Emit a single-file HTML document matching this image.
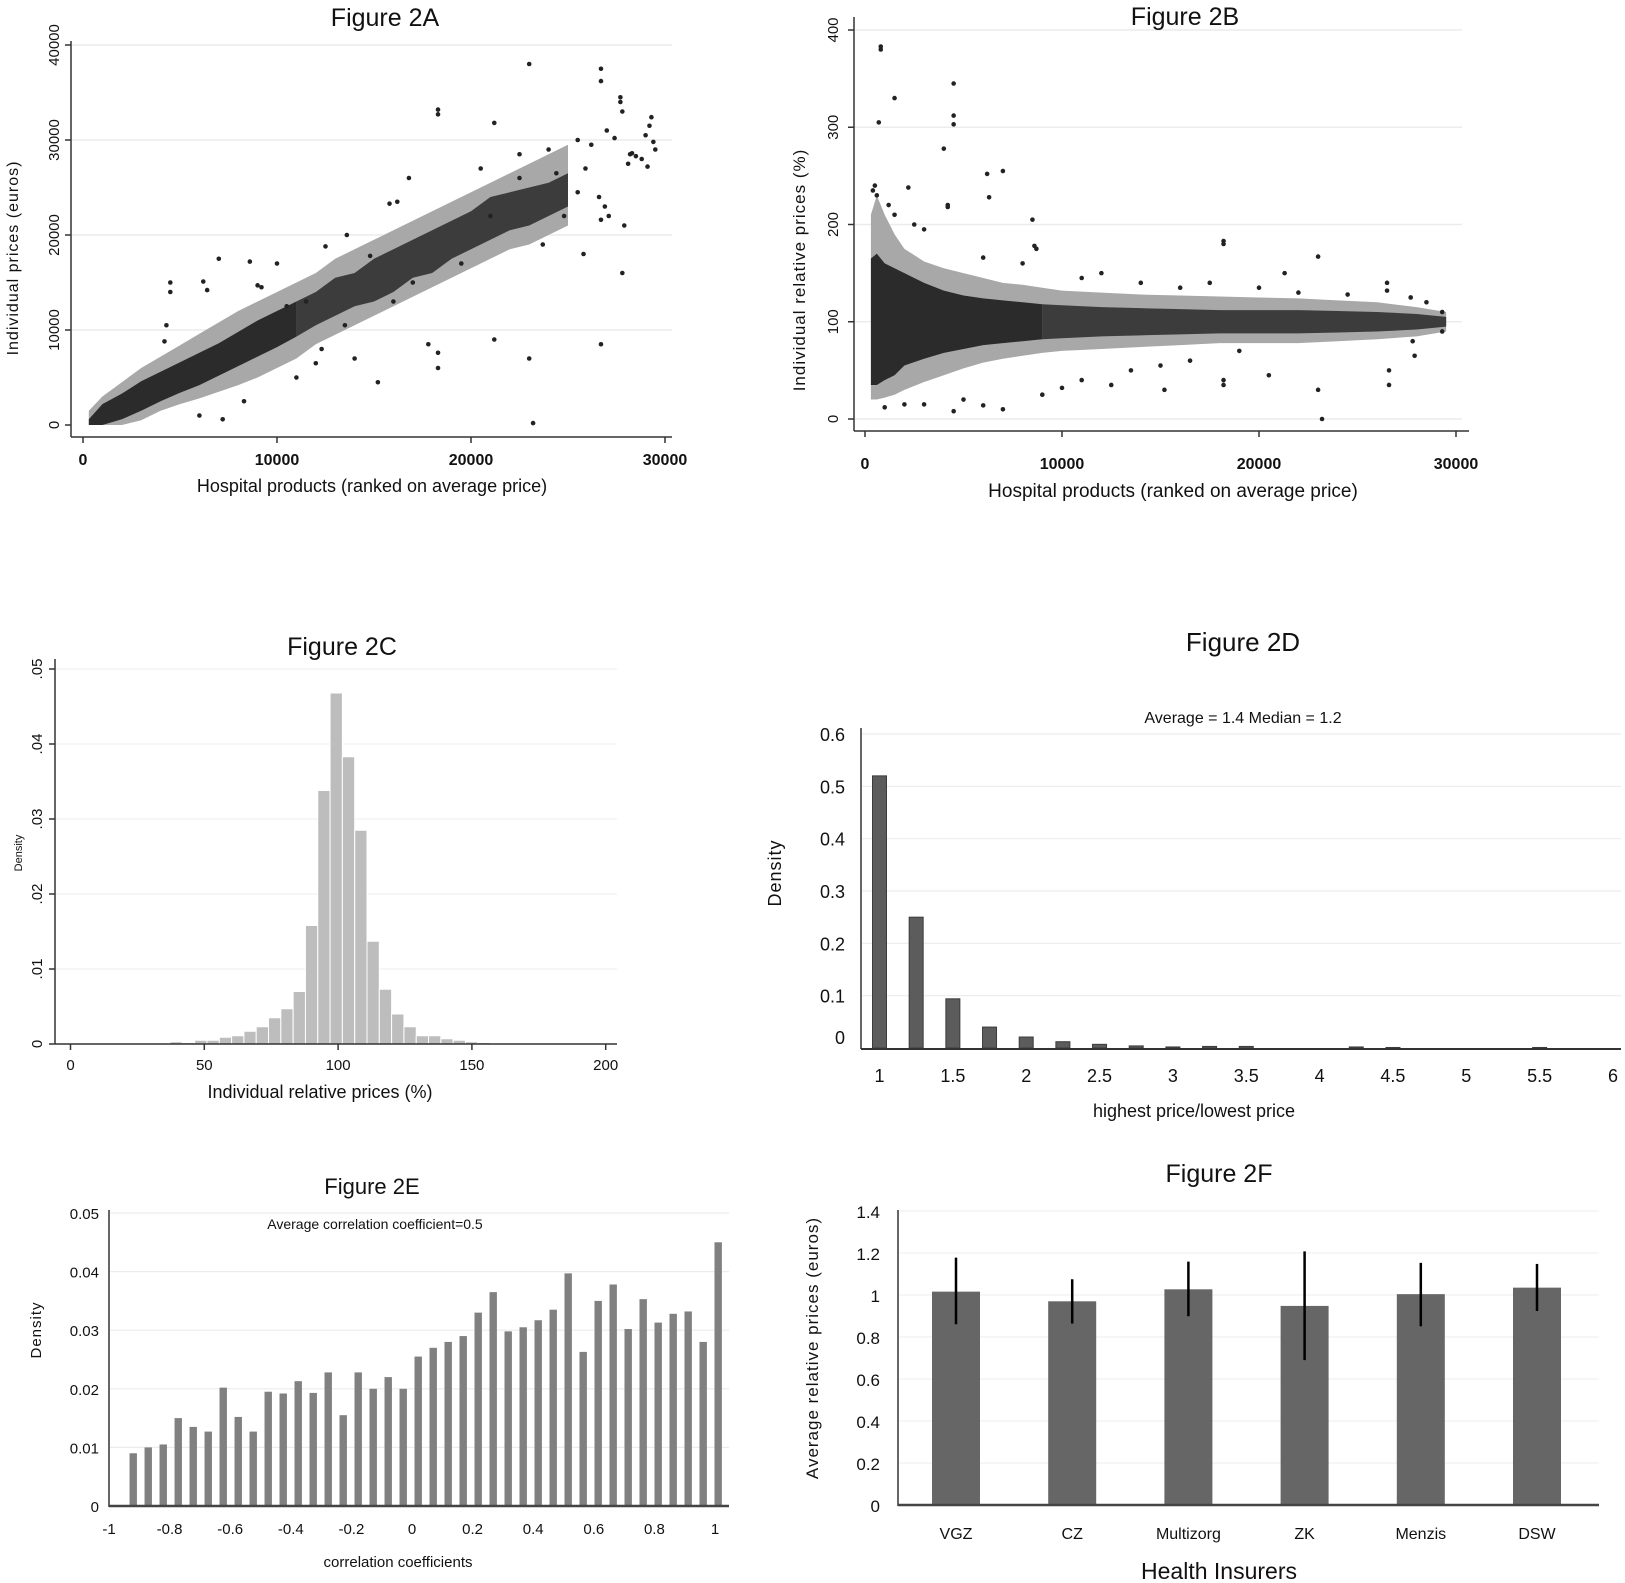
<!DOCTYPE html>
<html><head><meta charset="utf-8">
<style>
html,body{margin:0;padding:0;background:#fff;}
svg{display:block;font-family:"Liberation Sans",sans-serif;}
</style></head>
<body>
<svg id="fig" width="1625" height="1583" viewBox="0 0 1625 1583" xmlns="http://www.w3.org/2000/svg">
<g id="gA"></g>
<g id="gB"></g>
<g id="gC"></g>
<g id="gD"></g>
<g id="gE"></g>
<g id="gF"></g>
</svg>
<script>
// ---------- Figure 2A data (x, y in thousands) ----------
const aBandX  = [0.3,1,2,3,4,5,6,7,8,9,10,11,12,13,14,15,16,17,18,19,20,21,22,23,24,25];
const aBandLo = [0,0,0.6,1.5,2.5,3.4,4.2,5.2,6.2,7.2,8.2,9.3,10.5,11.5,12.5,13,14,15.5,16,17.5,18.5,19.5,20.5,21,22,23];
const aBandHi = [0.6,2.2,3.3,4.6,5.6,6.6,7.6,8.6,9.8,11,12,13,14,15.5,16,17.5,18.5,19.5,20.5,21.5,22.5,24,24.5,25,25.5,26.5];
const aHaloLo = [0,0,0,0.5,1.5,2.2,2.8,3.5,4.2,5,6,7,8.5,9.5,10.5,11.5,12.5,13.5,14.5,15.5,16.5,17.5,18.5,19,20,21];
const aHaloHi = [1.5,3,4.5,6,7.2,8.4,9.6,10.8,12,13,14,15,16,17.5,18.5,19.5,20.5,21.5,22.5,23.5,24.5,25.5,26.5,27.5,28.5,29.5];
const aPtsX = [23,26.7,26.7,27.7,27.7,27.8,18.3,18.3,21.2,29.3,29.2,29,26.6,26.7,27.8,26.7,23,21.2,23.2,18.3,18.3,15.2,17.8,16.8,20.5,22.5,24,25.5,28.2,27,28.8,29.5,7,8.6,6.2,6.4,4.5,4.5,4.3,4.2,9.2,9.0,12.5,13.6,15.8,16.2,14,13.5,12.3,11,7.2,8.3,6,10,25.5,24.8,24.4,23.7,22.5,21,19.5,17,16,14.8,12,11.5,10.5,25.8,26.9,27.1,27.9,28.1,28.5,29.4,29.1,28.3,27.4,26.2,25.9];
const aPtsY = [38,37.5,36.2,34.5,34,33,33.2,32.7,31.8,32.4,31.5,30.5,24,21.6,16,8.5,7,9,0.2,6,7.6,4.5,8.5,26,27,28.5,29,30,28.5,31,28,29,17.5,17.2,15.1,14.2,15,14,10.5,8.8,14.5,14.7,18.8,20,23.3,23.5,7,10.5,8,5,0.6,2.5,1,17,24.5,22,26.5,19,26,22,17,15,13,17.8,6.5,13,12.5,18,23,22,21,27.5,28.3,29.8,27.2,28.6,30.2,29.5,27];
const aXTicks = [0,10000,20000,30000];
const aYTicks = [0,10000,20000,30000,40000];

// ---------- Figure 2B data (x thousands, y %) ----------
const bBandX  = [0.3,0.6,1,1.5,2,3,4,5,6,7,8,9,10,12,14,16,18,20,22,24,26,28,29.5];
const bBandLo = [35,35,40,45,55,62,68,72,76,78,80,82,83,85,86,87,88,88,88,89,90,92,95];
const bBandHi = [165,170,160,155,150,140,132,127,124,122,120,118,117,115,114,113,112,112,112,111,110,108,105];
const bHaloLo = [20,20,22,25,30,38,45,52,58,62,65,68,70,72,74,76,78,78,78,80,82,85,90];
const bHaloHi = [210,230,210,190,175,162,155,150,145,140,138,135,132,130,128,127,126,125,124,122,120,115,110];
const bPtsX = [0.8,0.8,1.5,0.7,4.5,4.5,4.5,4,4.2,4.2,6.2,7,6.3,8.5,0.5,0.4,0.6,2.2,1.2,1.5,2.5,3,8.6,8.7,18.2,18.2,23,21.3,6,8,26.5,26.5,27.7,27.8,27.9,26.6,26.6,23.2,23,20.5,18.2,18.2,15.2,12.5,10,7,4.5,3,2,1,6,5,9,11,13.5,15,16.5,19,14,12,11,16,17.5,20,22,24.5,29.3,29.3,28.5];
const bPtsY = [383,380,330,305,345,312,303,278,220,218,252,255,228,205,240,235,230,238,220,210,200,195,178,175,183,180,167,150,166,160,140,132,125,80,65,50,35,0,30,45,35,40,30,35,32,10,8,15,15,12,14,20,25,40,50,55,60,70,140,150,145,135,140,135,130,128,110,90,120];
const bXTicks = [0,10000,20000,30000];
const bYTicks = [0,100,200,300,400];

// ---------- Figure 2C data ----------
const cBinStart = 37.2, cBinWidth = 4.6;
const cDensity = [0.0003,0.0002,0.0005,0.0005,0.0009,0.0011,0.0017,0.0023,0.0035,0.0047,0.007,0.0158,0.0338,0.0468,0.0383,0.0285,0.0137,0.0073,0.004,0.0023,0.0011,0.0011,0.0007,0.0005,0.0003,0.0002,0.0001];
const cXTicks = [0,50,100,150,200];
const cYTicks = [0,0.01,0.02,0.03,0.04,0.05];
const cYLabels = ["0",".01",".02",".03",".04",".05"];

// ---------- Figure 2D data ----------
const dRatio = [1,1.25,1.5,1.75,2,2.25,2.5,2.75,3,3.25,3.5,4.25,4.5,5.5];
const dDensity = [0.52,0.25,0.094,0.04,0.021,0.012,0.007,0.004,0.002,0.003,0.003,0.002,0.001,0.001];
const dXTicks = [1,1.5,2,2.5,3,3.5,4,4.5,5,5.5,6];
const dYTicks = [0,0.1,0.2,0.3,0.4,0.5,0.6];

// ---------- Figure 2E data ----------
const eStart = -0.92, eStep = 0.0495;
const eDensity = [0.009,0.010,0.0105,0.015,0.0135,0.0127,0.0202,0.0152,0.0127,0.0195,0.0192,0.0213,0.0193,0.0228,0.0155,0.0228,0.020,0.022,0.020,0.0255,0.027,0.028,0.029,0.033,0.0365,0.0298,0.0305,0.0317,0.0335,0.0397,0.0263,0.035,0.0378,0.0302,0.0353,0.0313,0.0328,0.0332,0.028,0.045];
const eXTicks = [-1,-0.8,-0.6,-0.4,-0.2,0,0.2,0.4,0.6,0.8,1];
const eYTicks = [0,0.01,0.02,0.03,0.04,0.05];

// ---------- Figure 2F data ----------
const fInsurers = ["VGZ","CZ","Multizorg","ZK","Menzis","DSW"];
const fMean = [1.016,0.97,1.027,0.948,1.004,1.035];
const fHigh = [1.178,1.075,1.159,1.208,1.153,1.148];
const fLow  = [0.861,0.864,0.899,0.69,0.851,0.924];
const fYTicks = [0,0.2,0.4,0.6,0.8,1,1.2,1.4];

const NS = "http://www.w3.org/2000/svg";
function mk(parent, tag, attrs, text){
  const e = document.createElementNS(NS, tag);
  for (const k in attrs) e.setAttribute(k, attrs[k]);
  if (text !== undefined) e.textContent = text;
  parent.appendChild(e);
  return e;
}
function lin(d0,d1,r0,r1){ return v => r0 + (v-d0)*(r1-r0)/(d1-d0); }
function txt(parent, x, y, s, size, opts){
  opts = opts || {};
  const a = {x:x, y:y, 'font-size':size, fill:'#111', 'text-anchor':opts.anchor||'middle'};
  if (opts.rot) a.transform = 'rotate('+opts.rot+' '+x+' '+y+')';
  if (opts.weight) a['font-weight'] = opts.weight;
  if (opts.ls) a['letter-spacing'] = opts.ls;
  return mk(parent,'text',a,s);
}
function band(g, X, Y, xs, lo, hi, i0, i1, fill, xm){
  let pts=[]; for(let i=i0;i<=i1;i++) pts.push(X(xs[i]*xm)+','+Y(hi[i]));
  for(let i=i1;i>=i0;i--) pts.push(X(xs[i]*xm)+','+Y(lo[i]));
  const p = mk(g,'polygon',{points:pts.join(' '),fill:fill});
  
  
}

// ================= 2A =================
(function(){
  const g = document.getElementById('gA');
  const X = lin(0,30000,83,665), Y0 = lin(0,40000,425,45);
  const Y = v => Y0(v*1000);
  aYTicks.forEach(v=>{ if(v>0){ const l=mk(g,'line',{x1:72,x2:672,y1:Y0(v),y2:Y0(v),stroke:'#ececec','stroke-width':1.5});
      }});
  band(g,X,Y,aBandX,aHaloLo,aHaloHi,0,aBandX.length-1,'#a8a8a8',1000);
  band(g,X,Y,aBandX,aBandLo,aBandHi,11,aBandX.length-1,'#3c3c3c',1000);
  band(g,X,Y,aBandX,aBandLo,aBandHi,0,11,'#2b2b2b',1000);
  aPtsX.forEach((x,i)=>{ const c=mk(g,'circle',{cx:X(x*1000),cy:Y(aPtsY[i]),r:2.3,fill:'#222'});
      });
  mk(g,'line',{x1:71,x2:71,y1:41,y2:437,stroke:'#333','stroke-width':1.5});
  mk(g,'line',{x1:71,x2:672,y1:437,y2:437,stroke:'#333','stroke-width':1.5});
  aXTicks.forEach(v=>{ mk(g,'line',{x1:X(v),x2:X(v),y1:437,y2:443,stroke:'#333','stroke-width':1.5});
    const t=txt(g,X(v),465,String(v),16,{weight:'bold'});   });
  aYTicks.forEach(v=>{ mk(g,'line',{x1:65,x2:71,y1:Y0(v),y2:Y0(v),stroke:'#333','stroke-width':1.5});
    const t=txt(g,59,Y0(v),String(v),15,{rot:-90});   });
  let t=txt(g,385,26,'Figure 2A',25);  
  t=txt(g,372,492,'Hospital products (ranked on average price)',18);  
  t=txt(g,18,258,'Individual prices (euros)',16,{rot:-90,ls:1});  
})();

// ================= 2B =================
(function(){
  const g = document.getElementById('gB');
  const X = lin(0,30000,865,1456), Y = lin(0,400,419,30);
  bYTicks.forEach(v=>{ const l=mk(g,'line',{x1:855,x2:1462,y1:Y(v),y2:Y(v),stroke:'#ececec','stroke-width':1.5});
      });
  band(g,X,Y,bBandX,bHaloLo,bHaloHi,0,bBandX.length-1,'#a8a8a8',1000);
  band(g,X,Y,bBandX,bBandLo,bBandHi,11,bBandX.length-1,'#3c3c3c',1000);
  band(g,X,Y,bBandX,bBandLo,bBandHi,0,11,'#2b2b2b',1000);
  bPtsX.forEach((x,i)=>{ const c=mk(g,'circle',{cx:X(x*1000),cy:Y(bPtsY[i]),r:2.3,fill:'#222'});
      });
  mk(g,'line',{x1:854,x2:854,y1:17,y2:431,stroke:'#333','stroke-width':1.5});
  mk(g,'line',{x1:854,x2:1469,y1:431,y2:431,stroke:'#333','stroke-width':1.5});
  bXTicks.forEach(v=>{ mk(g,'line',{x1:X(v),x2:X(v),y1:431,y2:437,stroke:'#333','stroke-width':1.5});
    const t=txt(g,X(v),469,String(v),16,{weight:'bold'});   });
  bYTicks.forEach(v=>{ mk(g,'line',{x1:848,x2:854,y1:Y(v),y2:Y(v),stroke:'#333','stroke-width':1.5});
    const t=txt(g,838,Y(v),String(v),15,{rot:-90});   });
  let t=txt(g,1185,25,'Figure 2B',25);  
  t=txt(g,1173,497,'Hospital products (ranked on average price)',19);  
  t=txt(g,805,270,'Individual relative prices (%)',17,{rot:-90,ls:1});  
})();

// ================= 2C =================
(function(){
  const g = document.getElementById('gC');
  const X = lin(0,200,70.5,605.7), Y = lin(0,0.05,1044,669);
  cYTicks.forEach(v=>{ if(v>0){ const l=mk(g,'line',{x1:56,x2:617,y1:Y(v),y2:Y(v),stroke:'#f0f0f0','stroke-width':1.2});
      }});
  cDensity.forEach((d,i)=>{
    const x0 = X(cBinStart + i*cBinWidth), x1 = X(cBinStart + (i+1)*cBinWidth);
    const r = mk(g,'rect',{x:x0,y:Y(d),width:x1-x0,height:Y(0)-Y(d),fill:'#bdbdbd',stroke:'#fff','stroke-width':1});
     
  });
  mk(g,'line',{x1:55,x2:55,y1:659,y2:1044,stroke:'#333','stroke-width':1.5});
  mk(g,'line',{x1:55,x2:617,y1:1044,y2:1044,stroke:'#333','stroke-width':1.5});
  cXTicks.forEach(v=>{ mk(g,'line',{x1:X(v),x2:X(v),y1:1044,y2:1050,stroke:'#333','stroke-width':1.5});
    const t=txt(g,X(v),1070,String(v),15);   });
  cYTicks.forEach((v,i)=>{ mk(g,'line',{x1:49,x2:55,y1:Y(v),y2:Y(v),stroke:'#333','stroke-width':1.5});
    const t=txt(g,42,Y(v),cYLabels[i],15,{rot:-90});   });
  let t=txt(g,342,655,'Figure 2C',25);  
  t=txt(g,320,1098,'Individual relative prices (%)',18);  
  t=txt(g,22,853,'Density',11,{rot:-90});  
})();

// ================= 2D =================
(function(){
  const g = document.getElementById('gD');
  const X = lin(1,6,879.5,1613), Y = lin(0,0.6,1048,734);
  dYTicks.forEach(v=>{ if(v>0){ const l=mk(g,'line',{x1:862,x2:1621,y1:Y(v),y2:Y(v),stroke:'#ececec','stroke-width':1.2});
      }});
  dRatio.forEach((r,i)=>{
    const b = mk(g,'rect',{x:X(r)-7,y:Y(dDensity[i]),width:14,height:Y(0)-Y(dDensity[i]),fill:'#5c5c5c',stroke:'#3c3c3c','stroke-width':1});
     
  });
  mk(g,'line',{x1:861,x2:861,y1:728,y2:1049,stroke:'#333','stroke-width':1.5});
  mk(g,'line',{x1:861,x2:1621,y1:1049,y2:1049,stroke:'#333','stroke-width':2});
  dXTicks.forEach(v=>{ const t=txt(g,X(v),1082,String(v),18);   });
  dYTicks.forEach(v=>{ const yy = v===0 ? Y(v)-4 : Y(v)+7;
    const t=txt(g,845,yy,String(v),18,{anchor:'end'});   });
  let t=txt(g,1243,651,'Figure  2D',26);  
  t=txt(g,1243,723,'Average = 1.4   Median = 1.2',16);  
  t=txt(g,1194,1117,'highest price/lowest price',18);  
  t=txt(g,781,873,'Density',18,{rot:-90,ls:1});  
})();

// ================= 2E =================
(function(){
  const g = document.getElementById('gE');
  const X = lin(-1,1,109,715), Y = lin(0,0.05,1506,1213);
  eYTicks.forEach(v=>{ if(v>0){ const l=mk(g,'line',{x1:110,x2:729,y1:Y(v),y2:Y(v),stroke:'#ececec','stroke-width':1.2});
      }});
  eDensity.forEach((d,i)=>{
    const cx = X(eStart + i*eStep);
    const b = mk(g,'rect',{x:cx-3.7,y:Y(d),width:7.4,height:Y(0)-Y(d),fill:'#808080'});
     
  });
  mk(g,'line',{x1:109,x2:109,y1:1210,y2:1507,stroke:'#333','stroke-width':1.5});
  mk(g,'line',{x1:109,x2:729,y1:1506,y2:1506,stroke:'#444','stroke-width':2.5});
  eXTicks.forEach(v=>{ const lbl = (Math.round(v*10)/10).toString();
    const t=txt(g,X(v),1534,lbl,15);   });
  eYTicks.forEach(v=>{ const t=txt(g,99,Y(v)+6,String(v),15,{anchor:'end'});   });
  let t=txt(g,372,1194,'Figure  2E',22);  
  t=txt(g,375,1229,'Average correlation coefficient=0.5',14);  
  t=txt(g,398,1567,'correlation coefficients',15);  
  t=txt(g,41,1330,'Density',15,{rot:-90,ls:1});  
})();

// ================= 2F =================
(function(){
  const g = document.getElementById('gF');
  const Y = lin(0,1.4,1505,1211);
  const X = i => 956 + i*116.2;
  fYTicks.forEach(v=>{ if(v>0){ const l=mk(g,'line',{x1:899,x2:1599,y1:Y(v),y2:Y(v),stroke:'#f0f0f0','stroke-width':1.2});
      }});
  fInsurers.forEach((name,i)=>{
    const b = mk(g,'rect',{x:X(i)-24,y:Y(fMean[i]),width:48,height:Y(0)-Y(fMean[i]),fill:'#666'});
     
    const e = mk(g,'line',{x1:X(i),x2:X(i),y1:Y(fHigh[i]),y2:Y(fLow[i]),stroke:'#000','stroke-width':2.5});
     
    const t = txt(g,X(i),1539,name,16);  
  });
  mk(g,'line',{x1:898,x2:898,y1:1210,y2:1506,stroke:'#333','stroke-width':1.5});
  mk(g,'line',{x1:898,x2:1599,y1:1505,y2:1505,stroke:'#444','stroke-width':2.5});
  fYTicks.forEach(v=>{ const t=txt(g,880,Y(v)+7,String(Math.round(v*10)/10),17,{anchor:'end'});   });
  let t=txt(g,1219,1182,'Figure 2F',25);  
  t=txt(g,1219,1579,'Health Insurers',23);  
  t=txt(g,818,1348,'Average relative  prices (euros)',17,{rot:-90,ls:1});  
})();
</script>
</body></html>
